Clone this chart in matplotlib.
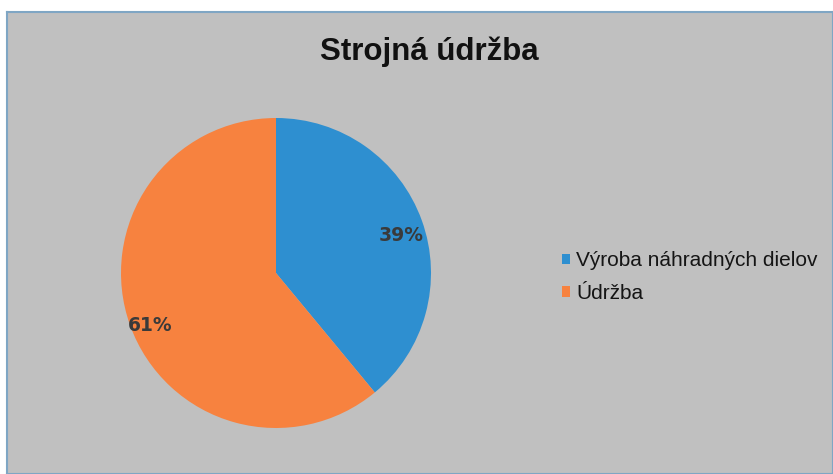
import matplotlib.pyplot as plt
from matplotlib.patches import Patch

title = 'Strojná údržba'
labels = ['Výroba náhradných dielov', 'Údržba']
values = [39, 61]
colors = ['#2e8fd0', '#f7823f']

plt.rcParams['font.family'] = ['Liberation Sans', 'DejaVu Sans']

fig = plt.figure(figsize=(8.33, 4.74), dpi=100)
fig.patch.set_facecolor('white')

# gray chart area with thin blue-gray frame
bg = fig.add_axes([7 / 833, 0, 1 - 7 / 833, 1 - 12 / 474], zorder=-1)
bg.set_facecolor('#c0c0c0')
bg.set_xticks([])
bg.set_yticks([])
for s in bg.spines.values():
    s.set_color('#7fa6c4')
    s.set_linewidth(1.5)

ax = fig.add_axes([121 / 833, 46 / 474, 310 / 833, 310 / 474])
wedges, texts, autotexts = ax.pie(values, colors=colors, startangle=90, counterclock=False,
                                  autopct='%1.0f%%', pctdistance=0.86, radius=1,
                                  textprops={'fontsize': 13.5, 'fontweight': 'bold', 'color': '#3a3a3a',
                                             'family': 'DejaVu Sans'})
for t in autotexts:
    x, y = t.get_position()
    t.set_position((x, y - 0.05))
ax.set_xlim(-1, 1)
ax.set_ylim(-1, 1)
ax.set_aspect('equal')

fig.text(429 / 833, 1 - 52 / 474, title, ha='center', va='center', fontsize=22.5, fontweight='bold',
         color='#111111')

handles = [Patch(facecolor=c, edgecolor='none') for c in colors]
fig.legend(handles, labels, loc='center left', bbox_to_anchor=(543 / 833, 1 - 277 / 474),
           frameon=False, fontsize=15, handlelength=0.4, handleheight=0.4, handletextpad=0.3,
           labelspacing=0.65, labelcolor='#151515')

plt.savefig('out.png', dpi=100)
plt.close()
